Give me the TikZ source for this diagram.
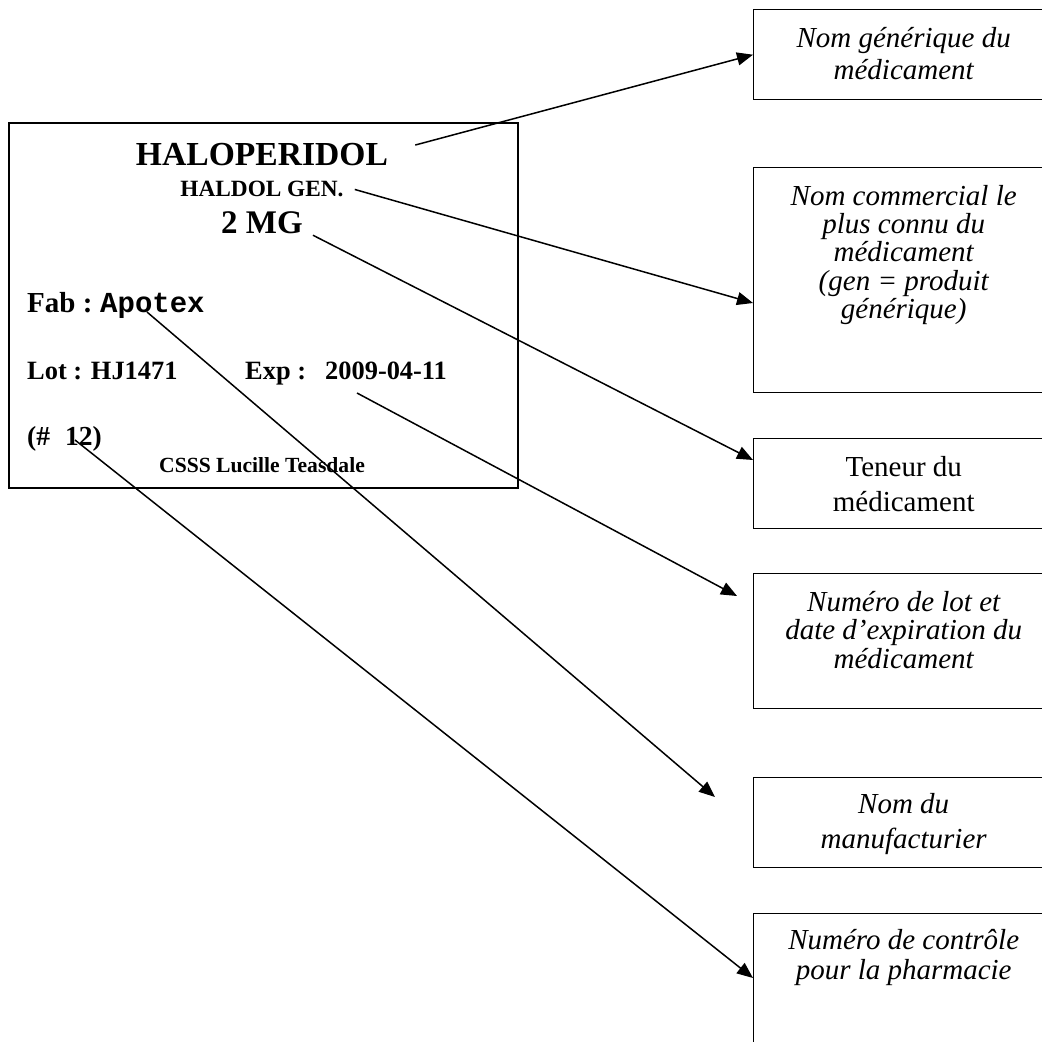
\documentclass[tikz,border=0pt]{standalone}
\usepackage{fontspec}
\setmainfont{Liberation Serif}
\newfontfamily\apotexfont{Liberation Mono}[BoldFont={Liberation Mono Bold}]
\usepackage{tikz}
\usetikzlibrary{positioning,calc,arrows.meta}

\begin{document}
\begin{tikzpicture}[
  x=1pt, y=-1pt,
  etiq/.style={rectangle, draw, line width=1.6pt, anchor=north west, inner sep=0pt},
  etiqtext/.style={inner sep=0pt},
  infobox/.style={rectangle, draw, line width=1.4pt, minimum width=300pt, anchor=north west, inner sep=0pt},
  infotext/.style={align=center, inner sep=0pt, font=\fontsize{29}{#1}\selectfont\itshape},
  infotext/.default=29,
  pointer/.style={-{Triangle[length=16pt,width=13pt]}, line width=1.5pt}
]
\useasboundingbox (0,0) rectangle (1042,1042);
\clip (0,0) rectangle (1042,1042);
\fill[white] (0,0) rectangle (1042,1042);

% etiquette du medicament
\node[etiq, minimum width=509pt, minimum height=365pt] (etiquette) at (8,122) {};
\node[etiqtext, anchor=base, font=\fontsize{33.6}{36}\selectfont\bfseries] (halo) at (262,165) {HALOPERIDOL};
\node[etiqtext, anchor=base, font=\fontsize{23.3}{26}\selectfont\bfseries] (haldol) at (262,196) {HALDOL GEN.};
\node[etiqtext, anchor=base, font=\fontsize{33}{36}\selectfont\bfseries] (dose) at (262,233) {2 MG};
\node[etiqtext, anchor=base west, font=\fontsize{29}{32}\selectfont\bfseries] (fab) at (27,312) {Fab :};
\node[etiqtext, anchor=base west, font=\apotexfont\fontsize{29}{32}\selectfont\bfseries] (apotex) at (100,312) {Apotex};
\node[etiqtext, anchor=base west, font=\fontsize{26.4}{30}\selectfont\bfseries] (lot) at (27,379) {Lot : HJ1471};
\node[etiqtext, anchor=base west, font=\fontsize{26.4}{30}\selectfont\bfseries] (exp) at (245,379) {Exp :};
\node[etiqtext, anchor=base west, font=\fontsize{26.4}{30}\selectfont\bfseries] (expdate) at (325,379) {2009-04-11};
\node[etiqtext, anchor=base west, font=\fontsize{27.5}{30}\selectfont\bfseries] (ctrl) at (27,445) {(\#\hspace{15pt}12)};
\node[etiqtext, anchor=base, font=\fontsize{21.6}{24}\selectfont\bfseries] (csss) at (262,472) {CSSS Lucille Teasdale};

% boites explicatives
\node[infobox, minimum height=90pt] (generic) at (753,9) {};
\node[infobox, minimum height=225pt] (comm) at (753,167) {};
\node[infobox, minimum height=90pt] (teneur) at (753,438) {};
\node[infobox, minimum height=135pt] (lotexp) at (753,573) {};
\node[infobox, minimum height=90pt] (manuf) at (753,777) {};
\node[infobox, minimum height=160pt] (ctrlbox) at (753,913) {};

\node[infotext=32, below=18pt of generic.north] (generictxt) {Nom générique du\\médicament};
\node[infotext=28.3, below=18pt of comm.north] (commtxt) {Nom commercial le\\plus connu du\\médicament\\(gen = produit\\générique)};
\node[infotext=35, font=\fontsize{29}{35}\selectfont\upshape, below=18pt of teneur.north] (teneurtxt) {Teneur du\\médicament};
\node[infotext=28.5, below=18pt of lotexp.north] (lotexptxt) {Numéro de lot et\\date d’expiration du\\médicament};
\node[infotext=35, below=16pt of manuf.north] (manuftxt) {Nom du\\manufacturier};
\node[infotext=30, below=16pt of ctrlbox.north] (ctrltxt) {Numéro de contrôle\\pour la pharmacie};

% fleches
\draw[pointer] ($(halo.east)+(27,-9)$) -- (generic.west);
\draw[pointer] ($(haldol.east)+(11,1)$) -- ($(comm.north west)+(0,136)$);
\draw[pointer] ($(dose.east)+(10,13)$) -- ($(teneur.north west)+(0,22)$);
\draw[pointer] ($(expdate.base west)+(32,14)$) -- ($(lotexp.north west)+(-16,23)$);
\draw[pointer] ($(apotex.base west)+(47,0)$) -- ($(manuf.north west)+(-38,20)$);
\draw[pointer] ($(ctrl.base west)+(48,-5)$) -- ($(ctrlbox.north west)+(0,65)$);
\end{tikzpicture}
\end{document}
